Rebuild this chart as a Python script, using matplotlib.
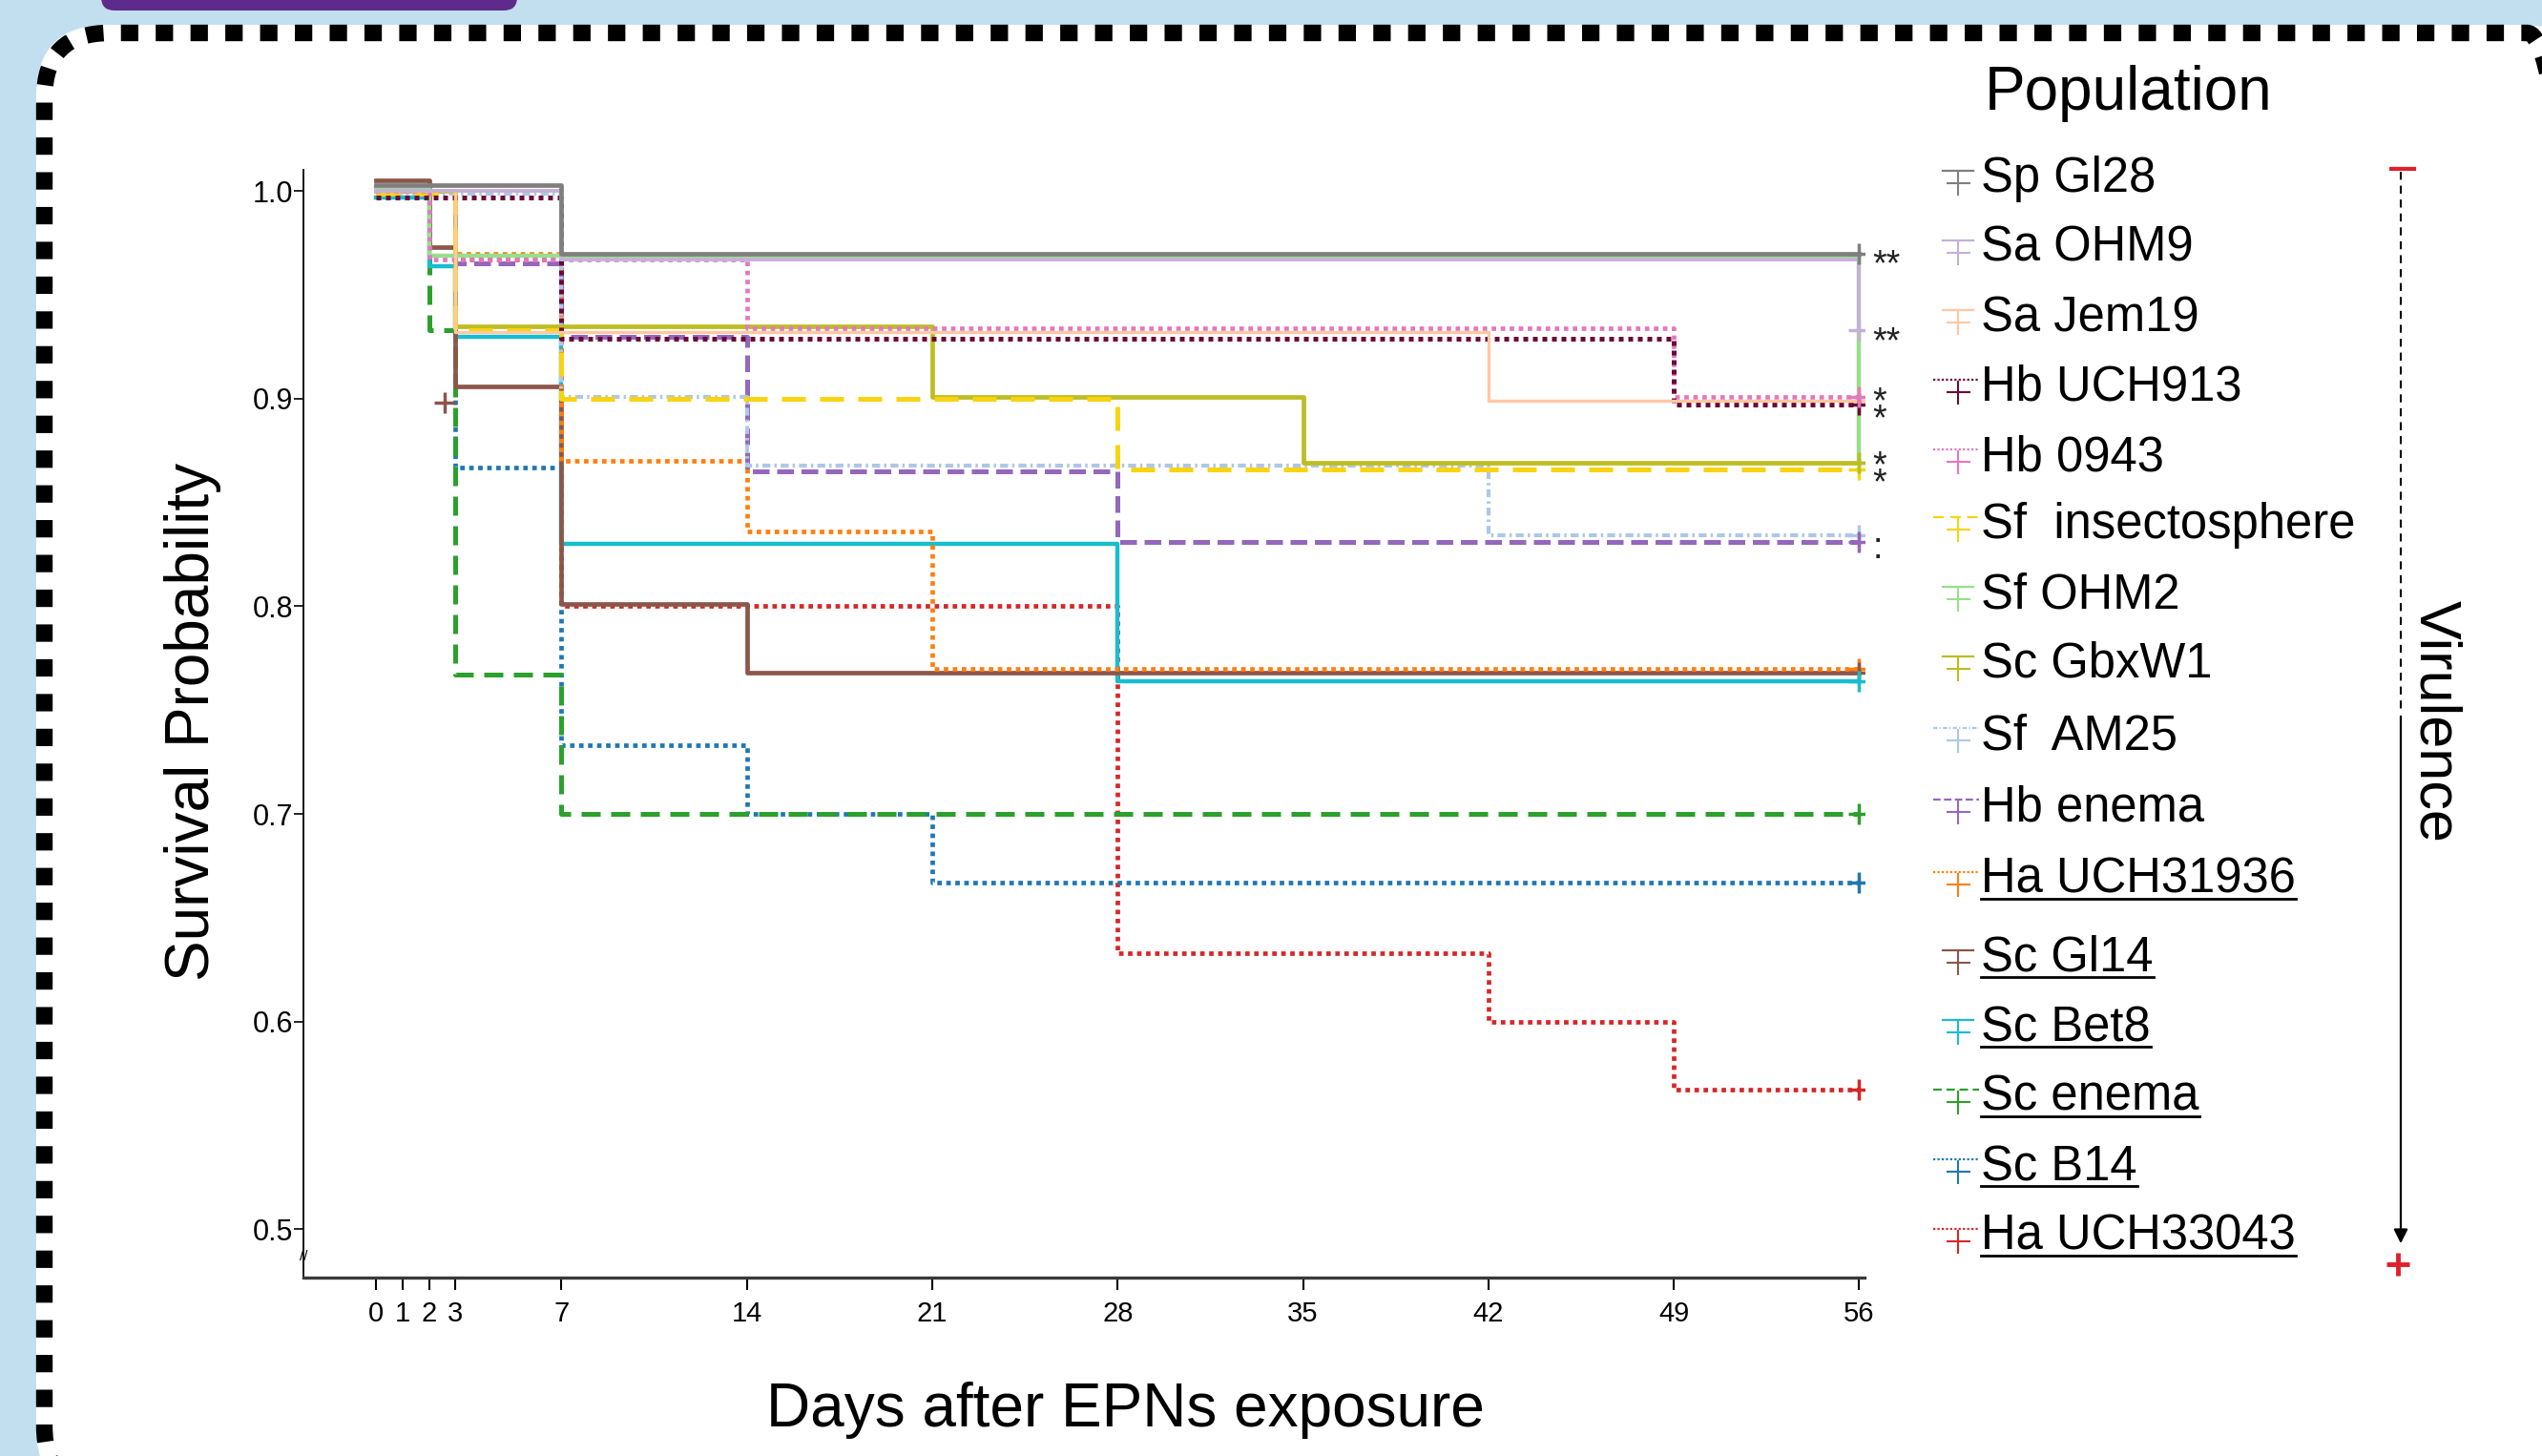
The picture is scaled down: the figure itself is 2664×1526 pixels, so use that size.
import matplotlib
matplotlib.use('Agg')
import matplotlib.pyplot as plt
from matplotlib import font_manager
from matplotlib.lines import Line2D
from matplotlib.patches import FancyBboxPatch, FancyArrowPatch
from matplotlib.transforms import IdentityTransform

populations = ['Sp Gl28', 'Sa OHM9', 'Sa Jem19', 'Hb UCH913', 'Hb 0943',
               'Sf  insectosphere', 'Sf OHM2', 'Sc GbxW1', 'Sf  AM25', 'Hb enema',
               'Ha UCH31936', 'Sc Gl14', 'Sc Bet8', 'Sc enema', 'Sc B14', 'Ha UCH33043']
underlined = ['Ha UCH31936', 'Sc Gl14', 'Sc Bet8', 'Sc enema', 'Sc B14', 'Ha UCH33043']

# days at which each curve steps down, and the survival after each step
step_days = [
    [0, 7],                  # Sp Gl28
    [0, 7, 56],              # Sa OHM9
    [0, 3, 42],              # Sa Jem19
    [0, 7, 49],              # Hb UCH913
    [0, 2, 14, 49],          # Hb 0943
    [0, 3, 7, 28],           # Sf insectosphere
    [0, 2, 56],              # Sf OHM2
    [0, 3, 21, 35],          # Sc GbxW1
    [0, 7, 14, 42],          # Sf AM25
    [0, 3, 7, 14, 28],       # Hb enema
    [0, 3, 7, 14, 21],       # Ha UCH31936
    [0, 2, 3, 7, 14],        # Sc Gl14
    [0, 2, 3, 7, 28],        # Sc Bet8
    [0, 2, 3, 7],            # Sc enema
    [0, 3, 7, 14, 21],       # Sc B14
    [0, 3, 7, 28, 42, 49],   # Ha UCH33043
]
step_surv = [
    [1.003, 0.970],
    [1.000, 0.967, 0.933],
    [1.000, 0.932, 0.899],
    [0.997, 0.929, 0.897],
    [1.000, 0.967, 0.934, 0.901],
    [0.999, 0.933, 0.900, 0.866],
    [1.002, 0.969, 0.869],
    [1.000, 0.935, 0.901, 0.869],
    [0.999, 0.901, 0.868, 0.834],
    [1.000, 0.965, 0.930, 0.865, 0.831],
    [1.000, 0.970, 0.870, 0.836, 0.770],
    [1.005, 0.973, 0.906, 0.801, 0.768],
    [0.997, 0.964, 0.930, 0.830, 0.764],
    [1.000, 0.933, 0.767, 0.700],
    [1.000, 0.867, 0.733, 0.700, 0.667],
    [1.000, 0.967, 0.800, 0.633, 0.600, 0.567],
]
end_day = 56
gl14_censor_day = 2.6
gl14_censor_surv = 0.898

# significance marks next to the curve ends
sig_text = ['**', '**', '*\n*', '*\n*', ':']
sig_surv = [0.970, 0.933, 0.900, 0.869, 0.834]

x_ticks = [0, 1, 2, 3, 7, 14, 21, 28, 35, 42, 49, 56]
y_ticks = [0.5, 0.6, 0.7, 0.8, 0.9, 1.0]

colors = ['#7f7f7f', '#c5b0d5', '#ffc8a2', '#6b0836', '#e377c2', '#f9d310', '#98df8a',
          '#bcbd22', '#aec7e8', '#9467bd', '#ff7f0e', '#8c564b', '#17becf', '#2ca02c',
          '#1f77b4', '#d62728']
styles = ['-', '-', '-', (0, (1, 1)), (0, (1, 1)), (0, (5, 3)), '-', '-',
          (0, (2, 1, 0.6, 1)), (0, (3.5, 1.6)), (0, (1, 1)), '-', '-', (0, (4, 2.2)),
          (0, (1, 1)), (0, (1, 1))]
widths = [3.4, 2.8, 2.4, 3.6, 3.4, 3.6, 3.2, 3.4, 3.0, 3.6, 3.4, 3.4, 3.2, 3.6, 3.4, 3.4]


def pick_font(names):
    available = {f.name for f in font_manager.fontManager.ttflist}
    for n in names:
        if n in available:
            return n
    return 'DejaVu Sans'


main_font = pick_font(['Liberation Sans', 'Arial', 'DejaVu Sans'])
tick_font = pick_font(['Liberation Sans Narrow', 'Liberation Sans', 'DejaVu Sans'])
plt.rcParams['font.family'] = [main_font, 'DejaVu Sans']

W, H = 2664, 1526
fig = plt.figure(figsize=(W / 100, H / 100), dpi=100)
fig.patch.set_facecolor('#c2dff0')
px = IdentityTransform()

# white panel with dashed border and the purple tab on top
fig.add_artist(FancyBboxPatch((38, -45), 2680, 1545, boxstyle='round,pad=0,rounding_size=75',
                              facecolor='white', edgecolor='none', transform=px, zorder=0))
fig.add_artist(FancyBboxPatch((46.5, -37), 2670, 1528.5, boxstyle='round,pad=0,rounding_size=68',
                              facecolor='none', edgecolor='black', lw=12.5,
                              linestyle=(0, (1.05, 1.05)), transform=px, zorder=1))
fig.add_artist(FancyBboxPatch((106, 1515), 436, 60, boxstyle='round,pad=0,rounding_size=14',
                              facecolor='#5e2b8d', edgecolor='none', transform=px, zorder=1))

ax = fig.add_axes([0.1194, 0.1225, 0.6141, 0.7609])
ax.set_facecolor('none')

for i in range(len(populations)):
    xs = step_days[i] + [end_day]
    ys = step_surv[i] + [step_surv[i][-1]]
    ax.step(xs, ys, where='post', color=colors[i], linestyle=styles[i], lw=widths[i],
            zorder=3 + (len(populations) - i) * 0.1)
    ax.plot(end_day, ys[-1], marker='+', ms=16, mew=2.5, color=colors[i], zorder=5)

ax.plot(gl14_censor_day, gl14_censor_surv, marker='+', ms=16, mew=2.5, color=colors[11], zorder=5)

for t, y in zip(sig_text, sig_surv):
    ax.text(56.5, y - 0.006, t, fontsize=27, ha='left', va='center', clip_on=False,
            color='#222222', family=main_font, linespacing=0.35)

ax.set_xlim(-2.74, 56.2)
ax.set_ylim(0.4766, 1.0103)
ax.set_xticks(x_ticks)
ax.set_xticklabels([str(v) for v in x_ticks], family=tick_font, fontsize=21)
ax.set_yticks(y_ticks)
ax.set_yticklabels([f'{v:.1f}' for v in y_ticks], family=tick_font, fontsize=22)
ax.tick_params(axis='y', length=7, width=1.2, pad=1)
ax.tick_params(axis='x', length=9, width=1.5, pad=8)
for s in ['top', 'right']:
    ax.spines[s].set_visible(False)
ax.spines['left'].set_linewidth(1.3)
ax.spines['bottom'].set_linewidth(2.4)
ax.spines['bottom'].set_color('#3a3a3a')
ax.text(0, 0.019, '//', transform=ax.transAxes, ha='center', va='center', fontsize=11,
        family=main_font)

fig.text(202 / W, 1 - 756 / H, 'Survival Probability', rotation=90, fontsize=46,
         ha='center', va='center')
fig.text(1179 / W, 1 - 1478 / H, 'Days after EPNs exposure', fontsize=46,
         ha='center', va='center')

# legend
fig.text(2080 / W, 1 - 98 / H, 'Population', fontsize=46, ha='left', va='center')
entry_y = [182, 255, 328, 401, 474, 545, 618, 691, 766, 841, 917, 999, 1072, 1145, 1218, 1291]
texts = []
for i, name in enumerate(populations):
    yc = entry_y[i]
    t = fig.text(2076 / W, 1 - (yc + 19) / H, name, fontsize=36.5, ha='left', va='baseline')
    texts.append(t)
    if styles[i] == '-':
        x0, x1 = 2036, 2068
    else:
        x0, x1 = 2026, 2074
    fig.add_artist(Line2D([x0, x1], [H - yc + 3, H - yc + 3], color=colors[i],
                          linestyle=styles[i], lw=1.6, transform=px))
    fig.add_artist(Line2D([2052], [H - yc - 10], marker='+', ms=18, mew=1.5,
                          color=colors[i], transform=px))

fig.canvas.draw()
renderer = fig.canvas.get_renderer()
for i, t in enumerate(texts):
    if t.get_text() in underlined:
        bb = t.get_window_extent(renderer)
        yb = H - (entry_y[i] + 19) - 6
        fig.add_artist(Line2D([bb.x0, bb.x1], [yb, yb], color='black', lw=2, transform=px))

# virulence arrow
fig.add_artist(Line2D([2516, 2516], [H - 180, H - 748], color='black', lw=1.5,
                      linestyle=(0, (4, 3)), transform=px))
fig.add_artist(FancyArrowPatch((2516, H - 748), (2516, H - 1306), arrowstyle='-|>',
                               mutation_scale=22, lw=1.6, color='black', transform=px))
fig.add_artist(Line2D([2506, 2530], [H - 177, H - 177], color='#e0202a', lw=3, transform=px))
fig.add_artist(Line2D([2513], [H - 1325], marker='+', ms=17, mew=3.5, color='#e0202a',
                      transform=px))
fig.text(2552 / W, 1 - 756 / H, 'Virulence', rotation=270, fontsize=44,
         ha='center', va='center')

fig.savefig('out.png', dpi=100, facecolor=fig.get_facecolor())
